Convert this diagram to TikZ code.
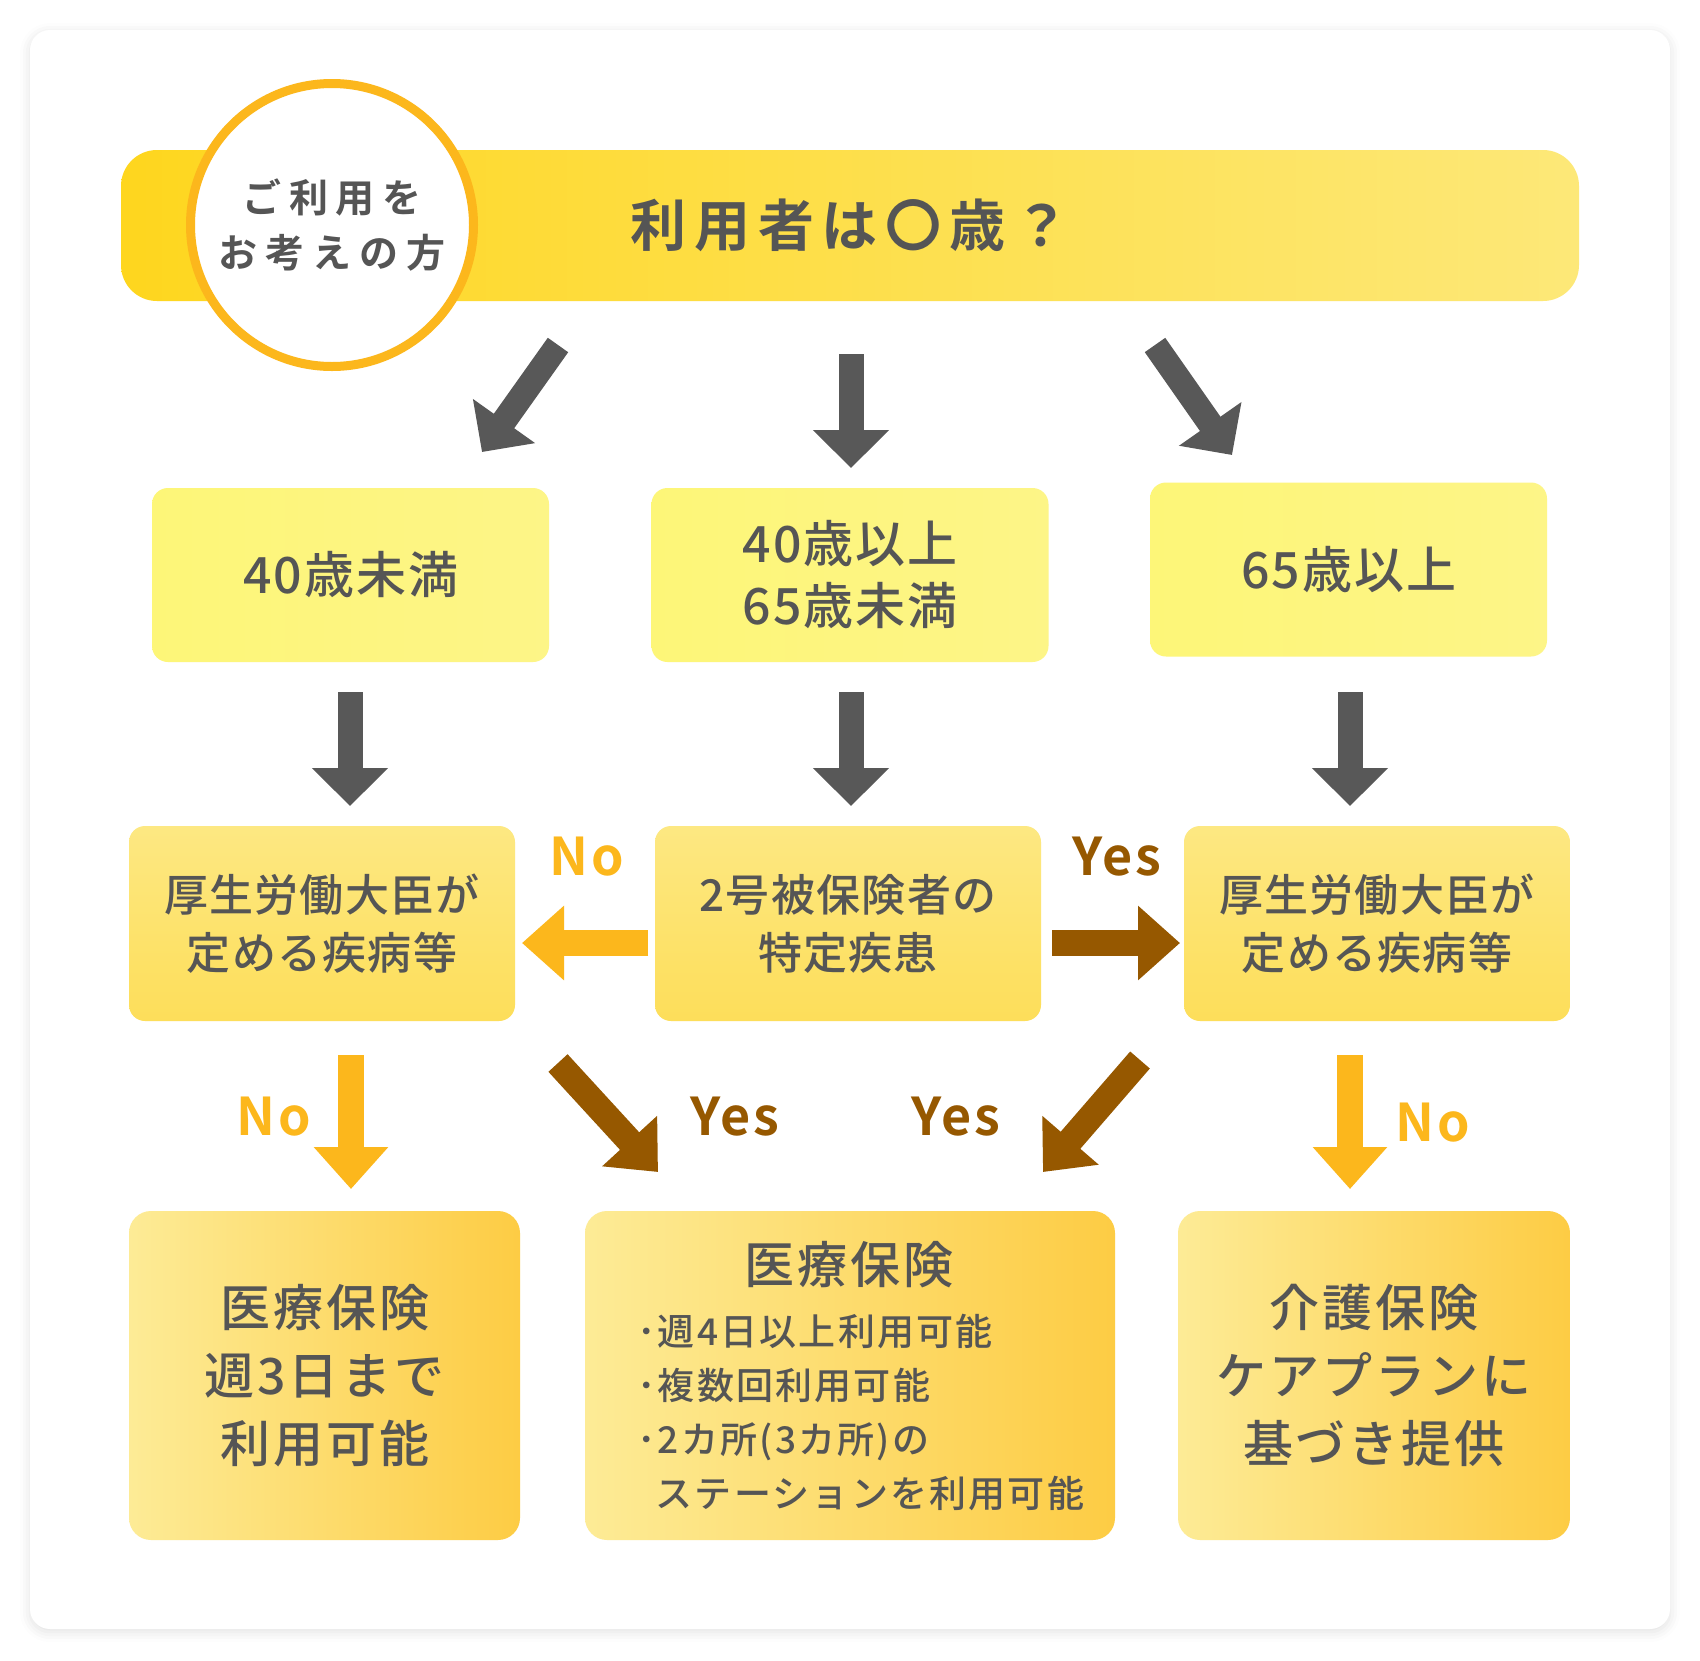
\documentclass[tikz,border=0pt]{standalone}
\usepackage{fontspec}
\setmainfont{Noto Sans CJK JP Medium}[BoldFont={Noto Sans CJK JP Bold}]
\usetikzlibrary{arrows.meta,positioning,shadows.blur}
\definecolor{ink}{RGB}{85,85,85}
\definecolor{slate}{RGB}{88,88,88}
\definecolor{tangerine}{RGB}{252,183,28}
\definecolor{cocoa}{RGB}{150,88,0}
\definecolor{lemon}{RGB}{253,246,120}
\definecolor{cream}{RGB}{253,240,180}
\definecolor{butter}{RGB}{253,232,130}
\definecolor{honey}{RGB}{253,222,90}
\definecolor{mustard}{RGB}{253,204,68}
\definecolor{sun}{RGB}{254,214,30}
\definecolor{straw}{RGB}{253,232,120}
\newcommand{\jpsize}[2]{\fontsize{#1}{#2}\selectfont}
\tikzset{
  bar/.style={rounded corners=36pt,minimum width=1458pt,minimum height=151pt,
    left color=sun,right color=straw,inner sep=0pt,text=ink,
    font=\jpsize{56}{60}\bfseries\addfontfeatures{LetterSpace=14}},
  badge/.style={circle,draw=tangerine,line width=9pt,fill=white,minimum size=283pt,
    inner sep=0pt,align=center,text=ink,
    font=\jpsize{39}{55}\bfseries\addfontfeatures{LetterSpace=20}},
  age/.style={rounded corners=16pt,minimum width=397pt,minimum height=174pt,
    left color=lemon,right color=lemon!75!cream,inner sep=0pt,align=center,text=ink,
    font=\jpsize{50}{62}\addfontfeatures{LetterSpace=4}},
  check/.style={rounded corners=16pt,minimum width=386pt,minimum height=195pt,
    top color=butter,bottom color=honey,inner sep=0pt,align=center,text=ink,
    font=\jpsize{44}{58}\addfontfeatures{LetterSpace=3}},
  result/.style={rounded corners=22pt,minimum height=329pt,
    left color=butter!60!cream,right color=mustard,inner sep=0pt,align=center,text=ink,
    font=\jpsize{50}{68}\addfontfeatures{LetterSpace=6}},
  go/.style={-{Triangle[width=74pt,length=38pt]},line width=25pt,draw=#1},
  go/.default=slate,
  fat/.style={-{Triangle[width=72pt,length=42pt]},line width=26pt,draw=#1},
  answer/.style={text=#1,inner sep=0pt,font=\jpsize{52}{60}\bfseries\addfontfeatures{LetterSpace=6}},
}

\begin{document}
\begin{tikzpicture}[x=1pt,y=-1pt]
  \useasboundingbox (0,0) rectangle (1700,1660);
  \fill[white,rounded corners=20pt,blur shadow={shadow blur radius=10pt,shadow xshift=0pt,
    shadow yshift=-3pt,shadow opacity=12}] (30,30) rectangle (1670,1629);

  % question
  \node[bar] (quest) at (850,225.5) {利用者は〇歳？};
  \node[badge] (who) at (332,225) {ご利用を\\お考えの方};

  % ages
  \node[age] (young) at (350.5,575) {40歳未満};
  \node[age] (middle) at (850,575) {40歳以上\\65歳未満};
  \node[age] (senior) at (1348.5,569.5) {65歳以上};

  % conditions
  \node[check] (lrule) at (322,923.5) {厚生労働大臣が\\定める疾病等};
  \node[check] (special) at (848,923.5) {2号被保険者の\\特定疾患};
  \node[check] (rrule) at (1377,923.5) {厚生労働大臣が\\定める疾病等};

  % outcomes
  \node[result,minimum width=391pt] (medical) at (324.5,1375.5) {医療保険\\週3日まで\\利用可能};
  \node[result,minimum width=530pt] (medplus) at (850,1375.5) {};
  \node[result,minimum width=392pt] (care) at (1374,1375.5) {介護保険\\ケアプランに\\基づき提供};
  \node[text=ink,font=\jpsize{50}{60}\addfontfeatures{LetterSpace=6}] (medtitle) at (849,1265) {医療保険};
  \node[anchor=west,align=left,text=ink,inner sep=0pt,
    font=\jpsize{37}{54}\addfontfeatures{LetterSpace=6}] (medlist) at (637,1412)
    {･週4日以上利用可能\\･複数回利用可能\\･2カ所(3カ所)の\\\phantom{･}ステーションを利用可能};

  % arrow ends
  \coordinate (q1) at (558,345);  \coordinate (a1) at (482,452);
  \coordinate (q2) at (851,354);  \coordinate (a2) at (851,468);
  \coordinate (q3) at (1155,345); \coordinate (a3) at (1232,455);
  \coordinate (b1) at (350,692);  \coordinate (c1) at (350,806);
  \coordinate (b2) at (851,692);  \coordinate (c2) at (851,806);
  \coordinate (b3) at (1350,692); \coordinate (c3) at (1350,806);
  \foreach \s/\e in {q1/a1,q2/a2,q3/a3,b1/c1,b2/c2,b3/c3}
    \draw[go] (\s) -- (\e);

  \coordinate (nl) at (648,943);  \coordinate (nr) at (522,943);
  \coordinate (yl) at (1052,943); \coordinate (yr) at (1180,943);
  \draw[fat=tangerine] (nl) -- (nr);
  \draw[fat=cocoa] (yl) -- (yr);

  \coordinate (d1) at (351,1055);  \coordinate (f1) at (351,1189);
  \coordinate (d2) at (558,1063);  \coordinate (f2) at (658,1172);
  \coordinate (d3) at (1140,1060); \coordinate (f3) at (1043,1172);
  \coordinate (d4) at (1350,1055); \coordinate (f4) at (1350,1189);
  \draw[fat=tangerine] (d1) -- (f1);
  \draw[fat=cocoa] (d2) -- (f2);
  \draw[fat=cocoa] (d3) -- (f3);
  \draw[fat=tangerine] (d4) -- (f4);

  % answers
  \node[answer=tangerine] (no1) at (587,857) {No};
  \node[answer=cocoa] (yes1) at (1117,857) {Yes};
  \node[answer=tangerine] (no2) at (274,1117) {No};
  \node[answer=cocoa] (yes2) at (735,1117) {Yes};
  \node[answer=cocoa] (yes3) at (956,1117) {Yes};
  \node[answer=tangerine] (no3) at (1433,1123) {No};
\end{tikzpicture}
\end{document}
